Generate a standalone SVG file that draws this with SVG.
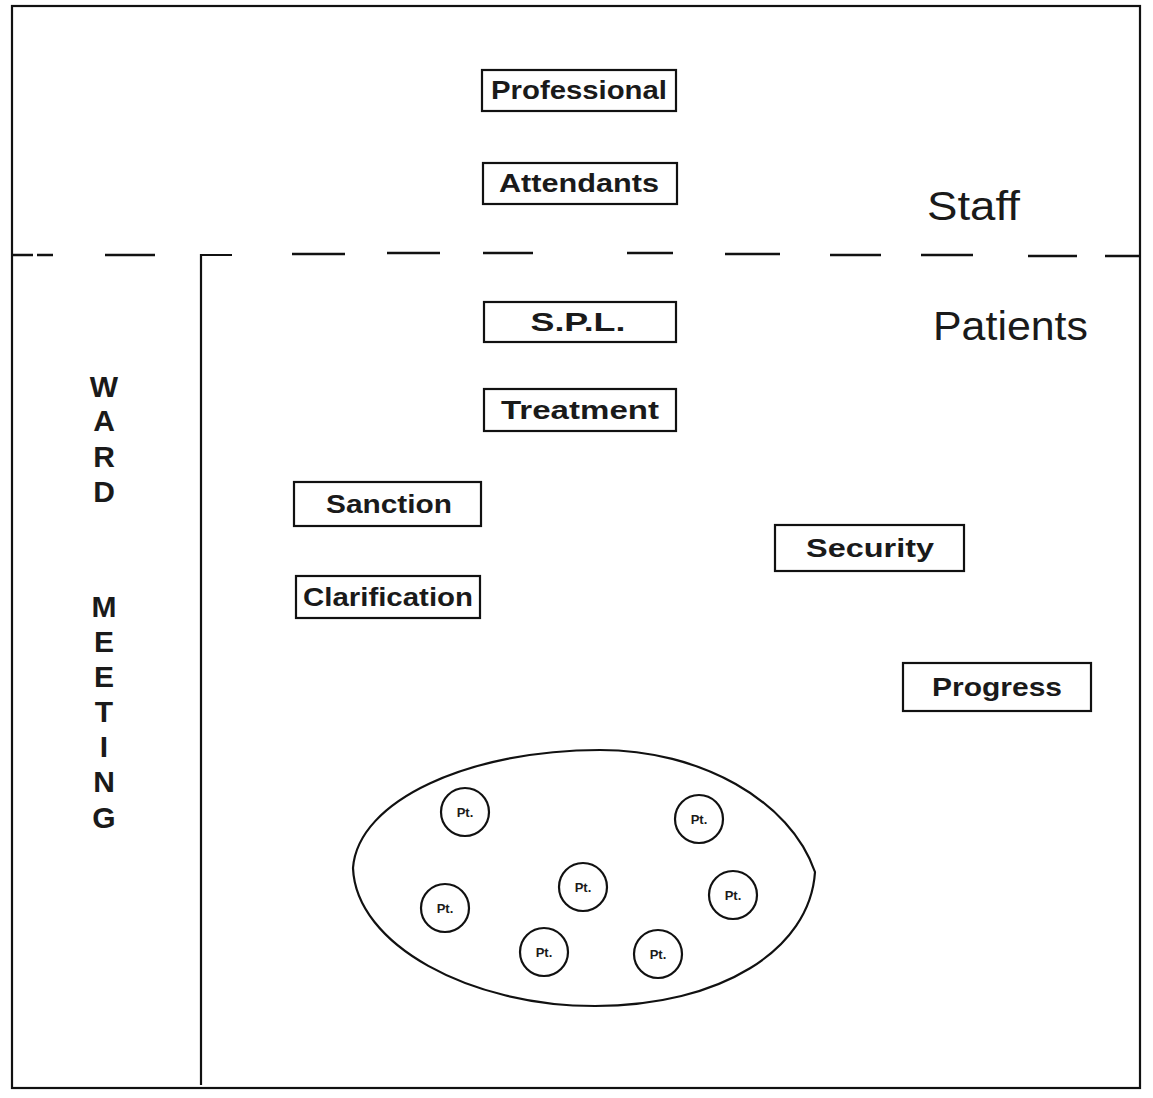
<svg xmlns="http://www.w3.org/2000/svg" width="1153" height="1098" viewBox="0 0 1153 1098">
<style>
.ln{fill:none;stroke:#111;stroke-width:2.2}
.dl{fill:none;stroke:#111;stroke-width:2.6}
.box{fill:#fff;stroke:#111;stroke-width:2.2}
.bt{font-family:"Liberation Sans",Arial,sans-serif;font-size:25px;font-weight:bold;fill:#1a1a1a;text-anchor:middle}
.big{font-family:"Liberation Sans",Arial,sans-serif;font-size:41px;fill:#1a1a1a}
.vt{font-family:"Liberation Sans",Arial,sans-serif;font-size:30px;font-weight:bold;fill:#1a1a1a;text-anchor:middle}
.pc{fill:#fff;stroke:#111;stroke-width:2.2}
.pt{font-family:"Liberation Sans",Arial,sans-serif;font-size:13px;font-weight:bold;fill:#1a1a1a;text-anchor:middle}
</style>
<rect width="1153" height="1098" fill="#fff"/>
<g id="frame">
<rect class="ln" x="12" y="6" width="1128" height="1082"/>
<path class="ln" d="M201 1085 V255 H232"/>
</g>
<g id="connectors">
<path class="dl" d="M12 255 H33 M37 255 H53 M105 255 H155 M292 254 H345 M387 253 H440 M483 253 H533 M627 253 H673 M725 254 H780 M830 255 H881 M921 255 H973 M1028 256 H1077 M1105 256 H1140"/>
</g>
<g id="staff"><text class="big" x="927" y="220" textLength="93" lengthAdjust="spacingAndGlyphs">Staff</text></g>
<g id="patients"><text class="big" x="933" y="340" textLength="155" lengthAdjust="spacingAndGlyphs">Patients</text></g>
<g id="professional"><rect class="box" x="482" y="70" width="194" height="41"/><text class="bt" x="579" y="99" textLength="176" lengthAdjust="spacingAndGlyphs">Professional</text></g>
<g id="attendants"><rect class="box" x="483" y="163" width="194" height="41"/><text class="bt" x="579" y="192" textLength="160" lengthAdjust="spacingAndGlyphs">Attendants</text></g>
<g id="spl"><rect class="box" x="484" y="302" width="192" height="40"/><text class="bt" x="578" y="331" textLength="95" lengthAdjust="spacingAndGlyphs">S.P.L.</text></g>
<g id="treatment"><rect class="box" x="484" y="389" width="192" height="42"/><text class="bt" x="580" y="419" textLength="158" lengthAdjust="spacingAndGlyphs">Treatment</text></g>
<g id="sanction"><rect class="box" x="294" y="482" width="187" height="44"/><text class="bt" x="389" y="513" textLength="126" lengthAdjust="spacingAndGlyphs">Sanction</text></g>
<g id="clarification"><rect class="box" x="296" y="576" width="184" height="42"/><text class="bt" x="388" y="606" textLength="170" lengthAdjust="spacingAndGlyphs">Clarification</text></g>
<g id="security"><rect class="box" x="775" y="525" width="189" height="46"/><text class="bt" x="870" y="557" textLength="128" lengthAdjust="spacingAndGlyphs">Security</text></g>
<g id="progress"><rect class="box" x="903" y="663" width="188" height="48"/><text class="bt" x="997" y="696" textLength="130" lengthAdjust="spacingAndGlyphs">Progress</text></g>
<g id="ward-meeting">
<text class="vt" x="104" y="397">W</text>
<text class="vt" x="104" y="431">A</text>
<text class="vt" x="104" y="467">R</text>
<text class="vt" x="104" y="502">D</text>
<text class="vt" x="104" y="617">M</text>
<text class="vt" x="104" y="652">E</text>
<text class="vt" x="104" y="687">E</text>
<text class="vt" x="104" y="722">T</text>
<text class="vt" x="104" y="757">I</text>
<text class="vt" x="104" y="792">N</text>
<text class="vt" x="104" y="828">G</text>
</g>
<g id="group">
<path class="ln" d="M353 868 C358 800 470 750 600 750 C700 750 790 800 815 872 C810 950 720 1006 595 1006 C470 1006 356 945 353 868 Z"/>
</g>
<g id="pt1"><circle class="pc" cx="465" cy="812" r="24"/><text class="pt" x="465" y="817">Pt.</text></g>
<g id="pt2"><circle class="pc" cx="699" cy="819" r="24"/><text class="pt" x="699" y="824">Pt.</text></g>
<g id="pt3"><circle class="pc" cx="583" cy="887" r="24"/><text class="pt" x="583" y="892">Pt.</text></g>
<g id="pt4"><circle class="pc" cx="733" cy="895" r="24"/><text class="pt" x="733" y="900">Pt.</text></g>
<g id="pt5"><circle class="pc" cx="445" cy="908" r="24"/><text class="pt" x="445" y="913">Pt.</text></g>
<g id="pt6"><circle class="pc" cx="544" cy="952" r="24"/><text class="pt" x="544" y="957">Pt.</text></g>
<g id="pt7"><circle class="pc" cx="658" cy="954" r="24"/><text class="pt" x="658" y="959">Pt.</text></g>
</svg>
